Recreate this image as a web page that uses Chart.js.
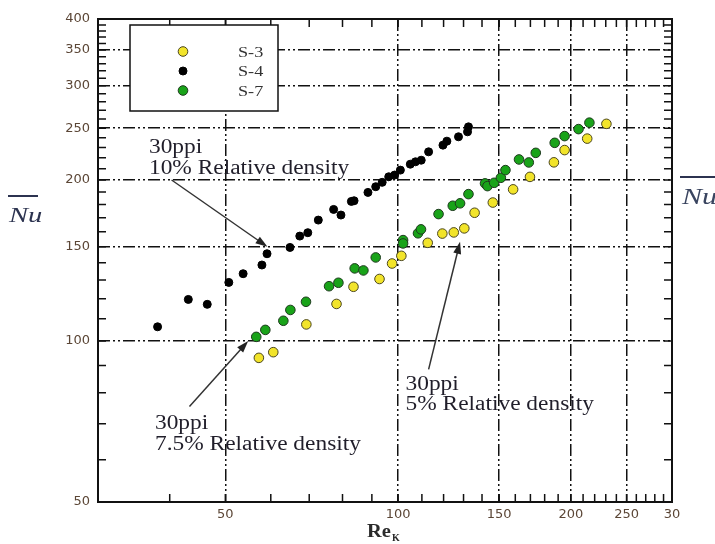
<!DOCTYPE html>
<html>
<head>
<meta charset="utf-8">
<script src="https://cdn.jsdelivr.net/npm/chart.js@4.4.0/dist/chart.umd.min.js"></script>
<style>
  html, body { margin: 0; padding: 0; background: #fff; }
  #wrap { position: relative; width: 715px; height: 544px; }
</style>
</head>
<body>
<div id="wrap"><canvas id="c" width="715" height="544"></canvas></div>
<script>
// values: Re_K against Nu
const s3Re = [57.2, 60.6, 69.2, 78.1, 83.6, 92.8, 97.6, 101.3, 112.6, 119.4, 125.0, 130.4, 135.9, 146.2, 158.6, 169.7, 186.8, 195.0, 213.5, 230.6];
const s3Nu = [93.0, 95.3, 107.4, 117.3, 126.3, 130.6, 139.6, 144.3, 152.6, 158.8, 159.6, 162.4, 173.7, 181.5, 192.1, 202.7, 215.8, 227.5, 239.0, 254.7];

const s4Re = [38.1, 43.1, 46.5, 50.7, 53.7, 57.9, 59.1, 64.8, 67.4, 69.6, 72.6, 77.2, 79.5, 82.9, 83.8, 88.6, 91.4, 93.8, 96.3, 98.6, 100.9, 105.0, 107.2, 109.7, 113.0, 119.7, 121.6, 127.4, 132.1, 132.6];
const s4Nu = [106.3, 119.6, 117.1, 128.7, 133.6, 138.7, 145.6, 149.6, 157.1, 159.4, 168.3, 176.2, 172.0, 182.4, 182.9, 189.6, 194.3, 198.0, 202.8, 204.3, 208.7, 214.1, 216.3, 217.8, 225.8, 232.4, 236.4, 240.9, 246.1, 251.4];

const s7Re = [56.6, 58.7, 63.1, 64.9, 69.1, 75.8, 78.7, 84.0, 87.0, 91.4, 102.0, 102.0, 108.3, 109.6, 117.6, 124.5, 128.2, 132.6, 141.7, 143.1, 147.0, 151.0, 153.8, 162.4, 168.9, 173.7, 187.4, 195.0, 206.2, 215.4];
const s7Nu = [101.8, 104.9, 109.1, 114.3, 118.4, 126.6, 128.5, 136.7, 135.5, 143.3, 154.4, 152.2, 159.0, 161.7, 172.7, 179.0, 180.9, 188.2, 197.1, 194.8, 197.6, 201.9, 208.7, 218.5, 215.7, 224.8, 234.7, 241.6, 249.0, 256.0];

const xMajor = [50, 100, 150, 200, 250, 300];
const xMajorLabels = ['50', '100', '150', '200', '250', '30'];   // last one is clipped in the original
const yMajor = [50, 100, 150, 200, 250, 300, 350, 400];
const yMajorLabels = ['50', '100', '150', '200', '250', '300', '350', '400'];

// annotation texts, placed in data coordinates
const notes = [
  { lines: ['30ppi', '10% Relative density'],  at: [36.8, 224.6], from: [40.3, 200], to: [59.2, 150] },
  { lines: ['30ppi', '7.5% Relative density'], at: [37.7, 68.4],  from: [43.3, 75.4], to: [54.8, 100] },
  { lines: ['30ppi', '5% Relative density'],   at: [103, 81],     from: [113, 88.5],  to: [128.2, 153.3] }
];

const toPts = (xs, ys) => xs.map((x, i) => ({ x, y: ys[i] }));
const everyTen = (a, b) => { const r = []; for (let v = a; v <= b; v += 10) r.push(v); return r; };
const xTickVals = everyTen(30, 300);
const yTickVals = everyTen(50, 400);

const stretchText = (ctx, txt, x, y, font, sx, color) => {
  ctx.save();
  ctx.font = font;
  ctx.fillStyle = color;
  ctx.textAlign = 'left';
  ctx.textBaseline = 'alphabetic';
  ctx.translate(x, y);
  ctx.scale(sx, 1);
  ctx.fillText(txt, 0, 0);
  ctx.restore();
};

const gridCol = (majors, edges) => (c) => {
  const v = c.tick && c.tick.value;
  return (majors.includes(v) && !edges.includes(v)) ? '#111' : 'rgba(0,0,0,0)';
};

// frame + inward ticks on all four sides
const frame = {
  id: 'frame',
  beforeDatasetsDraw(chart) {
    const { ctx, chartArea: a, scales: { x, y } } = chart;
    ctx.save();
    ctx.strokeStyle = '#111';
    ctx.lineWidth = 1.5;
    ctx.beginPath();
    xTickVals.forEach(v => {
      const px = x.getPixelForValue(v);
      ctx.moveTo(px, a.bottom); ctx.lineTo(px, a.bottom - 8);
      ctx.moveTo(px, a.top); ctx.lineTo(px, a.top + 8);
    });
    yTickVals.forEach(v => {
      const py = y.getPixelForValue(v);
      ctx.moveTo(a.left, py); ctx.lineTo(a.left + 8, py);
      ctx.moveTo(a.right, py); ctx.lineTo(a.right - 8, py);
    });
    ctx.stroke();
    ctx.lineWidth = 2;
    ctx.strokeRect(a.left, a.top, a.right - a.left, a.bottom - a.top);
    ctx.restore();
  }
};

const boxLegend = {
  id: 'boxLegend',
  afterDatasetsDraw(chart) {
    const { ctx, chartArea: a } = chart;
    const bx = a.left + 32, by = a.top + 6, bw = 148, bh = 86;
    ctx.save();
    ctx.fillStyle = '#fff';
    ctx.fillRect(bx, by, bw, bh);
    ctx.strokeStyle = '#111';
    ctx.lineWidth = 1.5;
    ctx.strokeRect(bx, by, bw, bh);
    chart.data.datasets.forEach((ds, i) => {
      const cy = by + 26.5 + i * 19.5;
      ctx.beginPath();
      ctx.arc(bx + 53, cy, ds.pointRadius, 0, Math.PI * 2);
      ctx.fillStyle = ds.backgroundColor;
      ctx.fill();
      ctx.lineWidth = ds.borderWidth;
      ctx.strokeStyle = ds.borderColor;
      ctx.stroke();
      stretchText(ctx, ds.label, bx + 108, cy + 5, '14px "Liberation Serif"', 1.3, '#333');
    });
    ctx.restore();
  }
};

const notesPlugin = {
  id: 'notes',
  afterDatasetsDraw(chart) {
    const { ctx, scales: { x, y } } = chart;
    notes.forEach(n => {
      const tx = x.getPixelForValue(n.at[0]), ty = y.getPixelForValue(n.at[1]);
      n.lines.forEach((l, i) => stretchText(ctx, l, tx, ty + i * 20.5, '20px "Liberation Serif"', 1.17, '#201e2a'));
      const x0 = x.getPixelForValue(n.from[0]), y0 = y.getPixelForValue(n.from[1]);
      const x1 = x.getPixelForValue(n.to[0]), y1 = y.getPixelForValue(n.to[1]);
      const ang = Math.atan2(y1 - y0, x1 - x0);
      ctx.save();
      ctx.strokeStyle = '#333';
      ctx.fillStyle = '#222';
      ctx.lineWidth = 1.5;
      ctx.beginPath();
      ctx.moveTo(x0, y0);
      ctx.lineTo(x1 - 8 * Math.cos(ang), y1 - 8 * Math.sin(ang));
      ctx.stroke();
      ctx.translate(x1, y1);
      ctx.rotate(ang);
      ctx.beginPath();
      ctx.moveTo(0, 0);
      ctx.lineTo(-12, -4);
      ctx.lineTo(-12, 4);
      ctx.closePath();
      ctx.fill();
      ctx.restore();
    });
  }
};

const axisTitles = {
  id: 'axisTitles',
  afterDraw(chart) {
    const { ctx, chartArea: a } = chart;
    const cx = (a.left + a.right) / 2 - 18;
    stretchText(ctx, 'Re', cx, 537, 'bold 19px "Liberation Serif"', 1.08, '#2a2a2a');
    stretchText(ctx, 'K', cx + 25, 541, 'bold 10px "Liberation Serif"', 1.0, '#2a2a2a');
    ctx.save();
    ctx.strokeStyle = '#2c3350';
    ctx.lineWidth = 2;
    ctx.beginPath();
    ctx.moveTo(8, 196); ctx.lineTo(38, 196);
    ctx.moveTo(680, 177); ctx.lineTo(715, 177);
    ctx.stroke();
    ctx.restore();
    stretchText(ctx, 'Nu', 9, 222, 'italic 22px "Liberation Serif"', 1.3, '#2c3350');
    stretchText(ctx, 'Nu', 682, 204, 'italic 24px "Liberation Serif"', 1.25, '#3a4560');
  }
};

const ctx = document.getElementById('c').getContext('2d');
new Chart(ctx, {
  type: 'scatter',
  data: {
    datasets: [
      { label: 'S-3', data: toPts(s3Re, s3Nu), backgroundColor: '#f2e42a', borderColor: '#4a4620', borderWidth: 1, pointRadius: 4.8 },
      { label: 'S-4', data: toPts(s4Re, s4Nu), backgroundColor: '#000', borderColor: '#000', borderWidth: 1, pointRadius: 4 },
      { label: 'S-7', data: toPts(s7Re, s7Nu), backgroundColor: '#19a319', borderColor: '#1e3a1e', borderWidth: 1, pointRadius: 4.8 }
    ]
  },
  options: {
    responsive: false,
    animation: false,
    layout: { padding: { left: 0, right: 43, top: 19, bottom: 0 } },
    plugins: { legend: { display: false }, tooltip: { enabled: false } },
    scales: {
      x: {
        type: 'logarithmic', min: 30, max: 300,
        afterBuildTicks: s => { s.ticks = xTickVals.map(v => ({ value: v })); },
        afterFit: s => { s.height = 42; },
        ticks: {
          autoSkip: false, maxRotation: 0, minRotation: 0, padding: 5,
          color: '#5b4636', font: { family: 'DejaVu Sans', size: 13 },
          callback: v => { const i = xMajor.indexOf(v); return i < 0 ? '' : xMajorLabels[i]; }
        },
        grid: { color: gridCol(xMajor, [30, 300]), lineWidth: 1.5, drawTicks: false },
        border: { display: false, dash: [12, 3, 2, 3, 2, 3] }
      },
      y: {
        type: 'logarithmic', min: 50, max: 400,
        afterBuildTicks: s => { s.ticks = yTickVals.map(v => ({ value: v })); },
        afterFit: s => { s.width = 98; },
        ticks: {
          autoSkip: false, padding: 8,
          color: '#5b4636', font: { family: 'DejaVu Sans', size: 13 },
          callback: v => { const i = yMajor.indexOf(v); return i < 0 ? '' : yMajorLabels[i]; }
        },
        grid: { color: gridCol(yMajor, [50, 400]), lineWidth: 1.5, drawTicks: false },
        border: { display: false, dash: [12, 3, 2, 3, 2, 3] }
      }
    }
  },
  plugins: [frame, boxLegend, notesPlugin, axisTitles]
});
</script>
</body>
</html>
